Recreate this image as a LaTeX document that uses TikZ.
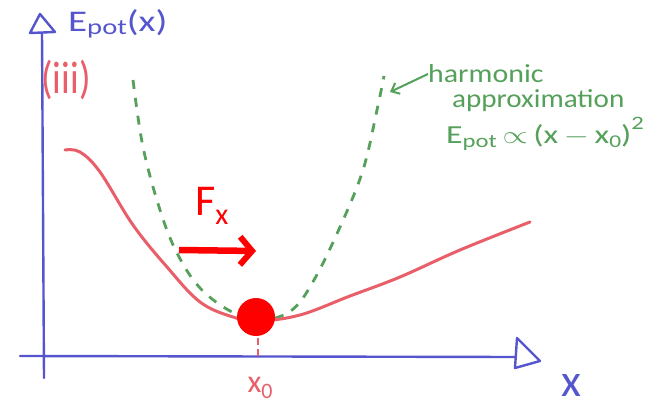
\documentclass[tikz,border=0pt]{standalone}
\usepackage{fontspec}
\usepackage{graphicx}
\setmainfont{Carlito}
\usetikzlibrary{arrows.meta}
\definecolor{axisblue}{RGB}{85,85,205}
\definecolor{curvered}{RGB}{232,95,105}
\definecolor{harmgreen}{RGB}{85,160,90}
\definecolor{brightred}{RGB}{255,0,0}
\newcommand{\fsz}[1]{\fontsize{#1}{#1}\selectfont}
\begin{document}
\begin{tikzpicture}[x=1pt,y=-1pt,
  axisline/.style={draw=axisblue,line width=2.4pt,line cap=round},
  axishead/.style={draw=axisblue,line width=2.4pt,line join=round,fill=white},
  potcurve/.style={draw=curvered,line width=3pt,line cap=round},
  harmcurve/.style={draw=harmgreen,line width=2.8pt,dash pattern=on 9pt off 9pt},
  lbl/.style={inner sep=0pt,anchor=center},
  greentext/.style={lbl,text=harmgreen},
]
\useasboundingbox[fill=white] (0,0) rectangle (652,411);

% axes
\coordinate (yb) at (44,378);
\coordinate (yt) at (42,32);
\coordinate (xl) at (20,356);
\coordinate (xr) at (516,357);
\draw[axisline] (yb) -- (yt);
\draw[axisline] (xl) -- (xr);
\draw[axishead] (30,33) -- (40,14) -- (55,32) -- cycle;
\draw[axishead] (517,338) -- (540,361) -- (515,368) -- cycle;

% labels of axes
\node[lbl,text=axisblue,anchor=west] (ylab) at (68,24) {\scalebox{1.3}[1]{\fsz{30}E\raisebox{-0.25ex}{\fsz{22}pot}(x)}};
\node[lbl,text=axisblue] (xlab) at (571,386) {\fsz{46}x};
\node[lbl,text=curvered] (iii) at (66,80) {\scalebox{1}[1.2]{\fsz{38}(iii)}};

% harmonic approximation
\draw[harmcurve] plot[smooth,tension=0.6] coordinates {(133,80) (143,147) (160,210) (177,253) (200,288) (232,312) (262,320) (292,310) (314,280) (340,227) (363,170) (377,110) (384,76)};

% potential curve
\draw[potcurve] plot[smooth,tension=0.6] coordinates {(65,150) (80,152) (100,172) (133,225) (167,267) (200,302) (233,317) (258,321) (300,315) (350,296) (400,277) (460,250) (530,222)};

% minimum
\draw[draw=curvered,line width=2.6pt,dash pattern=on 7pt off 4pt] (258,338) -- (258,356);
\node[circle,fill=brightred,minimum size=38pt,inner sep=0pt] (ball) at (256,317) {};
\node[lbl,text=curvered] (x0) at (260,388) {\fsz{32}x\raisebox{-0.35ex}{\fsz{22}0}};

% force
\node[lbl,text=brightred,anchor=west] (F) at (195,206) {\fsz{44}F\raisebox{-0.45ex}{\fsz{30}x}};
\coordinate (fs) at (179,250);
\coordinate (fe) at (256,251);
\draw[brightred,line width=6.5pt,-{Straight Barb[length=12pt,width=28pt,line width=6pt]}] (fs) -- (fe);

% annotation
\node[greentext,anchor=west] (harm) at (428,74) {\scalebox{1.15}[1]{\fsz{26}harmonic}};
\node[greentext,anchor=west] (approx) at (452,101) {\scalebox{1.12}[1]{\fsz{26}approximation}};
\node[greentext,anchor=west] (formula) at (446,134) {\scalebox{1.3}[1]{\fsz{26}E\raisebox{-0.3ex}{\fsz{19}pot}\,$\propto$\,(x\,$-$\,x\raisebox{-0.3ex}{\fsz{18}0})\raisebox{1.1ex}{\fsz{19}2}}};
\coordinate (harmtip) at (390,92);
\draw[harmgreen,line width=2pt,-{Straight Barb[length=7pt,width=12pt]}] (harm.west) -- (harmtip);
\end{tikzpicture}
\end{document}
